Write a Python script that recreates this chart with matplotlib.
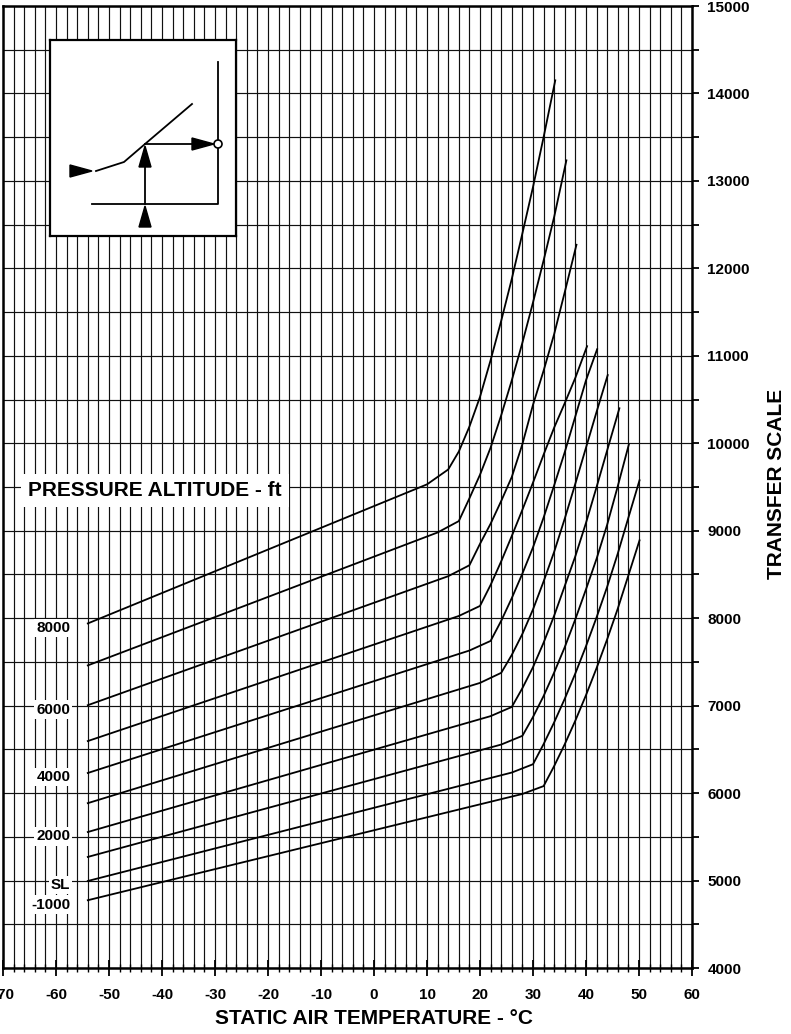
import numpy as np
from matplotlib import pyplot as plt
from matplotlib.patches import Polygon, Circle

plt.rcParams['font.family'] = ['Liberation Sans', 'DejaVu Sans']
plt.rcParams['font.weight'] = 'bold'
plt.rcParams['axes.unicode_minus'] = False

# Pressure altitude curves: static air temperature (degC) -> transfer scale
t_8000 = [-54, 10, 14, 16, 18, 20, 22, 24, 26, 28, 30, 32, 34.2]
v_8000 = [7940, 9530, 9700, 9905, 10190, 10530, 10950, 11400, 11880, 12400, 12930, 13500, 14150]
t_7000 = [-54, 12, 16, 18, 20, 22, 24, 26, 28, 30, 32, 34, 36.3]
v_7000 = [7460, 8980, 9110, 9370, 9640, 9950, 10320, 10720, 11150, 11610, 12090, 12590, 13235]
t_6000 = [-54, 14, 18, 20, 22, 24, 26, 28, 30, 32, 34, 36, 38.2]
v_6000 = [7005, 8480, 8605, 8850, 9080, 9340, 9615, 9990, 10440, 10830, 11250, 11730, 12270]
t_5000 = [-54, 16, 20, 22, 24, 26, 28, 30, 32, 34, 36, 38, 40.2]
v_5000 = [6595, 8025, 8140, 8380, 8650, 8940, 9240, 9550, 9870, 10180, 10460, 10750, 11110]
t_4000 = [-54, 18, 22, 24, 26, 28, 30, 32, 34, 36, 38, 40, 42.1]
v_4000 = [6230, 7630, 7740, 7970, 8230, 8510, 8810, 9150, 9520, 9900, 10310, 10720, 11075]
t_3000 = [-54, 20, 24, 26, 28, 30, 32, 34, 36, 38, 40, 42, 44.1]
v_3000 = [5885, 7260, 7375, 7580, 7820, 8100, 8420, 8760, 9140, 9540, 9950, 10360, 10780]
t_2000 = [-54, 22, 26, 28, 30, 32, 34, 36, 38, 40, 42, 44, 46.3]
v_2000 = [5555, 6880, 6985, 7200, 7440, 7720, 8030, 8370, 8710, 9090, 9500, 9920, 10400]
t_1000 = [-54, 24, 28, 30, 32, 34, 36, 38, 40, 42, 44, 46, 48.1]
v_1000 = [5270, 6555, 6655, 6870, 7110, 7380, 7670, 7990, 8330, 8680, 9070, 9510, 9990]
t_sl = [-54, 26, 30, 32, 34, 36, 38, 40, 42, 44, 46, 48, 50.1]
v_sl = [4995, 6235, 6330, 6560, 6810, 7080, 7370, 7680, 8010, 8360, 8740, 9150, 9577]
t_m1000 = [-54, 28, 32, 34, 36, 38, 40, 42, 44, 46, 48, 50.1]
v_m1000 = [4775, 5990, 6080, 6310, 6560, 6830, 7120, 7430, 7760, 8110, 8490, 8890]

curves = [(t_8000, v_8000), (t_7000, v_7000), (t_6000, v_6000), (t_5000, v_5000),
          (t_4000, v_4000), (t_3000, v_3000), (t_2000, v_2000), (t_1000, v_1000),
          (t_sl, v_sl), (t_m1000, v_m1000)]

# labelled curves
alt_labels = ['8000', '6000', '4000', '2000', 'SL', '-1000']
alt_label_y = [v_8000[0], v_6000[0], v_4000[0], v_2000[0], v_sl[0], v_m1000[0]]

x_ticks = list(range(-70, 61, 10))
y_ticks = list(range(4000, 15001, 1000))

fig = plt.figure(figsize=(7.91, 10.34), dpi=100)
ax = fig.add_axes([3 / 791, 66 / 1034, 689 / 791, 962 / 1034])

ax.set_xlim(-70, 60)
ax.set_ylim(4000, 15000)
ax.set_xticks(x_ticks)
ax.set_xticks(np.arange(-70, 61, 2), minor=True)
ax.set_yticks(y_ticks)
ax.set_yticks(np.arange(4000, 15001, 500), minor=True)
ax.set_axisbelow(True)
ax.grid(which='both', color='#111111', lw=0.85)

ax.yaxis.tick_right()
ax.tick_params(axis='y', which='both', direction='out', length=5, width=1.3,
               labelsize=11, pad=6)
ax.tick_params(axis='x', which='major', direction='inout', length=11, width=1.3,
               labelsize=11, pad=9)
ax.tick_params(axis='x', which='minor', direction='inout', length=6, width=1.0)
for lbl in ax.get_xticklabels() + ax.get_yticklabels():
    lbl.set_fontweight('bold')
for s in ax.spines.values():
    s.set_linewidth(1.8)

for t, v in curves:
    ax.plot(t, v, color='black', lw=1.3, zorder=3)

for lab, yv in zip(alt_labels, alt_label_y):
    ax.text(-57.3, yv - 50, lab, ha='right', va='center', fontsize=11, fontweight='bold',
            bbox=dict(facecolor='white', edgecolor='none', pad=1.5), zorder=4)

ax.text(-41.3, 9460, 'PRESSURE ALTITUDE - ft', ha='center', va='center',
        fontsize=15, fontweight='bold',
        bbox=dict(facecolor='white', edgecolor='none', pad=5), zorder=4)

ax.text(0, -0.052, 'STATIC AIR TEMPERATURE - °C', transform=ax.get_xaxis_transform(),
        ha='center', va='center', fontsize=15, fontweight='bold')
fig.text(777 / 791, 1 - 484 / 1034, 'TRANSFER SCALE', rotation=90,
         ha='center', va='center', fontsize=15, fontweight='bold')

# how-to-read inset
ins = fig.add_axes([50 / 791, 1 - 236 / 1034, 186 / 791, 196 / 1034])
ins.set_xlim(0, 186)
ins.set_ylim(196, 0)
ins.set_xticks([])
ins.set_yticks([])
ins.set_facecolor('white')
for s in ins.spines.values():
    s.set_linewidth(1.6)
ins.plot([168, 168, 42], [22, 164, 164], color='black', lw=1.3)
ins.plot([95, 95], [164, 108], color='black', lw=1.3)
ins.plot([46, 74, 95, 142], [131, 122, 104, 64], color='black', lw=1.3)
ins.plot([95, 160], [104, 104], color='black', lw=1.3)
ins.add_patch(Polygon([[95, 166], [89, 187], [101, 187]], closed=True, color='black'))
ins.add_patch(Polygon([[95, 106], [89, 127], [101, 127]], closed=True, color='black'))
ins.add_patch(Polygon([[164, 104], [142, 98], [142, 110]], closed=True, color='black'))
ins.add_patch(Polygon([[42, 131], [20, 125], [20, 137]], closed=True, color='black'))
ins.add_patch(Circle((168, 104), 4, facecolor='white', edgecolor='black', lw=1.2, zorder=5))

fig.savefig('out.png', dpi=100)
